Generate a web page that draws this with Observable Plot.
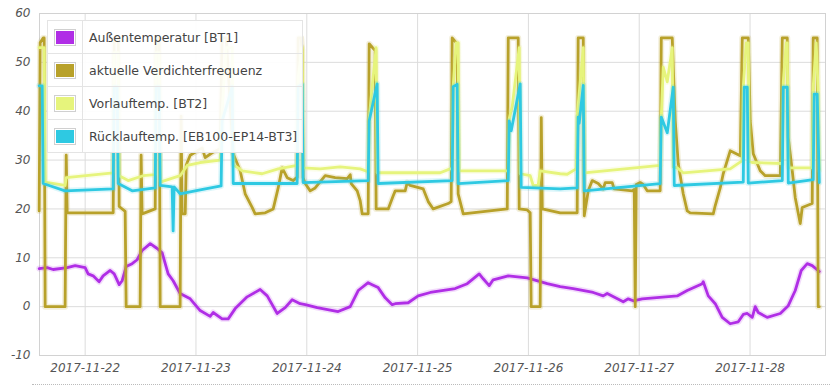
<!DOCTYPE html>
<html>
<head>
<meta charset="utf-8">
<script src="https://cdn.jsdelivr.net/npm/d3@7"></script>
<script src="https://cdn.jsdelivr.net/npm/@observablehq/plot@0.6"></script>
<style>
  html, body { margin: 0; padding: 0; background: #fff; }
  #wrap { position: relative; width: 836px; height: 387px; overflow: hidden; }
  #legend { position: absolute; left: 47px; top: 20px; background: rgba(255,255,255,0.92); }
  #legend table { border-collapse: collapse; font-family: "DejaVu Sans", sans-serif; font-size: 12.5px; color: #444; }
  #legend td { border: 1px solid #e4e4e4; height: 32px; padding: 0; }
  #legend td.sw { width: 34px; text-align: center; }
  #legend .box { display: inline-block; border: 1px solid #d0d0d0; padding: 1px; vertical-align: middle; }
  #legend .box div { width: 18px; height: 13px; }
  #legend td.lab { padding: 0 5px 0 6px; white-space: nowrap; }
  #dots { position: absolute; left: 32px; top: 384px; width: 798px; border-top: 1px dotted #bbb; }
</style>
</head>
<body>
<div id="wrap"><div id="chart"></div><div id="legend"></div><div id="dots"></div></div>
<script>
// Times are decimal days of November 2017 (e.g. 22.5 = 2017-11-22 12:00), values in chart units.
const aussen = [[21.585,7.8],[21.657,8.0],[21.711,7.6],[21.838,8.0],[21.910,8.4],[22.000,8.0],[22.027,6.7],[22.072,6.3],[22.126,5.1],[22.162,6.3],[22.226,7.4],[22.262,6.7],[22.307,4.5],[22.334,5.3],[22.370,8.2],[22.424,8.8],[22.469,9.6],[22.514,11.5],[22.587,12.9],[22.650,11.9],[22.695,11.0],[22.749,6.7],[22.794,5.3],[22.857,2.7],[22.948,1.6],[23.038,-0.8],[23.128,-2.0],[23.155,-1.2],[23.236,-2.5],[23.291,-2.5],[23.354,-0.4],[23.462,2.0],[23.579,3.5],[23.643,2.2],[23.733,-1.4],[23.805,-0.2],[23.868,1.4],[23.940,0.6],[23.986,0.4],[24.094,-0.2],[24.283,-1.0],[24.392,0],[24.464,3.3],[24.554,4.9],[24.590,4.5],[24.644,3.9],[24.708,1.8],[24.771,0.4],[24.798,0.6],[24.915,0.8],[25.005,2.2],[25.114,2.9],[25.339,3.7],[25.448,4.7],[25.556,6.7],[25.592,5.7],[25.646,4.3],[25.682,5.5],[25.818,6.3],[25.989,5.9],[26.170,4.7],[26.287,4.1],[26.404,3.7],[26.585,2.9],[26.675,2.2],[26.711,2.7],[26.856,1.0],[26.901,1.6],[26.946,1.2],[27.027,1.6],[27.343,2.2],[27.433,3.3],[27.569,4.7],[27.578,5.1],[27.623,2.2],[27.686,0.6],[27.749,-2.2],[27.821,-3.5],[27.894,-3.1],[27.939,-1.6],[27.975,-1.4],[28.020,-2.2],[28.047,0],[28.074,-1.2],[28.155,-2.2],[28.273,-1.4],[28.345,0.2],[28.408,3.3],[28.462,7.4],[28.516,8.8],[28.561,8.4],[28.625,7.2]];

const verdichter = [[21.585,19.6],[21.594,54],[21.621,55],[21.630,55],[21.639,0],[21.819,0],[21.829,31],[21.838,19.2],[22.253,19.2],[22.262,55],[22.298,55],[22.307,20.5],[22.361,19.5],[22.370,0],[22.496,0],[22.505,31],[22.514,19],[22.632,20],[22.641,55],[22.668,55],[22.677,0],[22.857,0],[22.866,39],[22.875,19],[22.903,19],[22.912,29],[22.948,31],[23.056,32.5],[23.083,30.5],[23.146,31.5],[23.218,32.3],[23.236,55],[23.273,55],[23.336,31.3],[23.399,27.8],[23.444,23.1],[23.507,20.3],[23.534,19],[23.625,19.2],[23.697,20],[23.742,24.3],[23.778,28.4],[23.823,26.4],[23.877,25.8],[23.913,26.5],[23.922,55],[23.949,55],[23.958,52.5],[23.967,26.4],[23.986,25.2],[24.031,23.7],[24.076,24.3],[24.166,26.8],[24.256,26.4],[24.365,26.2],[24.392,27],[24.401,25.2],[24.455,23.7],[24.482,21.7],[24.500,19],[24.554,19],[24.563,53.8],[24.617,52.4],[24.626,20],[24.735,20],[24.780,22.7],[24.798,23.7],[24.888,23.7],[24.906,25.4],[24.933,24.8],[25.051,24.1],[25.096,21.5],[25.141,20],[25.276,21.1],[25.303,21.5],[25.312,55],[25.357,53.8],[25.366,23.1],[25.412,19],[25.809,20],[25.818,55],[25.908,55],[25.917,20],[25.989,19.8],[26.016,19.2],[26.025,0],[26.106,0],[26.116,38.7],[26.125,20],[26.287,19.2],[26.440,19.2],[26.449,55],[26.495,55],[26.504,18.6],[26.540,23.7],[26.576,25.8],[26.630,25.2],[26.675,24.1],[26.693,25.4],[26.756,25.4],[26.774,24.1],[26.937,23.7],[26.955,24],[26.964,0],[26.973,25],[27.009,25.4],[27.036,25],[27.072,23.7],[27.189,23.7],[27.199,55],[27.298,55],[27.325,38],[27.352,29.3],[27.397,23.1],[27.433,19.6],[27.460,19.2],[27.668,19],[27.686,20.7],[27.731,24.3],[27.758,27.2],[27.821,31.9],[27.912,30.9],[27.930,55],[27.984,55],[28.002,38],[28.029,31.3],[28.092,27.8],[28.137,26.8],[28.273,26.8],[28.291,55],[28.336,55],[28.345,34.6],[28.381,27.8],[28.408,22.3],[28.453,17],[28.471,20.3],[28.561,21.1],[28.570,55],[28.606,55],[28.615,0],[28.625,0]];

const vorlauf = [[21.585,53],[21.630,53],[21.639,25.5],[21.819,24.8],[21.829,26.4],[22.253,27.4],[22.262,52],[22.298,52],[22.307,26.8],[22.388,25.8],[22.523,26.8],[22.632,27],[22.641,52],[22.668,52],[22.677,25.5],[22.857,26.8],[22.921,28.9],[23.038,29.5],[23.218,30],[23.236,40],[23.273,53],[23.327,53],[23.336,29],[23.381,28.4],[23.417,27.8],[23.597,27.2],[23.742,28.2],[23.913,28.9],[23.922,47],[23.958,53],[23.967,28.4],[24.121,28.2],[24.301,28.6],[24.482,28.2],[24.554,27.6],[24.563,38.5],[24.590,45],[24.626,53],[24.635,27.4],[25.204,27.4],[25.294,28.2],[25.312,28.2],[25.321,45],[25.348,54],[25.366,54],[25.375,27.8],[25.818,27.8],[25.827,38.5],[25.854,41],[25.917,53],[25.926,27.2],[26.016,26.8],[26.043,24.8],[26.088,24.8],[26.106,27.8],[26.287,27.2],[26.350,27.1],[26.431,28.2],[26.440,39],[26.495,53],[26.504,27.4],[27.189,28.9],[27.199,38.8],[27.217,49],[27.253,46],[27.298,53],[27.307,28.6],[27.343,28.4],[27.397,27.4],[27.821,28.2],[27.930,29.9],[27.939,45],[27.966,54],[27.984,54],[27.993,29.7],[28.020,29.5],[28.291,29.3],[28.300,46],[28.327,54],[28.336,54],[28.345,28.6],[28.363,28.4],[28.561,28.4],[28.570,45],[28.597,54],[28.615,44],[28.625,28]];

const ruecklauf = [[21.585,45.2],[21.612,45.2],[21.621,25.2],[21.648,25],[21.819,23.7],[22.253,24.1],[22.262,45],[22.289,45],[22.298,25.2],[22.424,23.7],[22.632,24.3],[22.641,45],[22.668,45],[22.677,24.8],[22.785,24.5],[22.794,15.5],[22.803,24.5],[22.857,23.1],[23.038,23.9],[23.227,24.7],[23.236,38],[23.327,45],[23.336,25.2],[23.913,25.2],[23.922,45],[23.958,45.5],[23.967,25.4],[24.554,25.8],[24.563,38],[24.635,45.6],[24.644,25.2],[25.312,25.8],[25.321,45],[25.357,45.5],[25.366,25.2],[25.818,25.8],[25.827,38],[25.845,36],[25.926,45.6],[25.935,24.4],[26.287,24.1],[26.440,24.3],[26.449,38.8],[26.458,37.5],[26.495,45.3],[26.504,23.7],[27.189,25.2],[27.199,38.8],[27.253,35.6],[27.307,44.9],[27.316,24.8],[27.939,25.5],[27.948,44.9],[27.975,44.9],[27.984,25.3],[28.291,25.8],[28.300,44.9],[28.336,44.9],[28.345,25.3],[28.570,26],[28.579,43.5],[28.606,43.5],[28.625,25.4]];

const seriesNames = ["Außentemperatur [BT1]", "aktuelle Verdichterfrequenz", "Vorlauftemp. [BT2]", "Rücklauftemp. [EB100-EP14-BT3]"];
const seriesColors = ["#b02ee6", "#b8a12a", "#e6f47c", "#2ec9e2"];
const seriesData = [aussen, verdichter, vorlauf, ruecklauf];
const yTicks = [-10, 0, 10, 20, 30, 40, 50, 60];
const yDomain = [-10, 60];
const xDomainDays = [21.588, 28.681];

const dayZero = Date.UTC(2017, 10, 1);
const toDate = d => new Date(dayZero + (d - 1) * 864e5);

const lineMarks = [];
seriesData.forEach((arr, i) => {
  const rows = arr.map(([t, v]) => ({t: toDate(t), v}));
  lineMarks.push(Plot.line(rows, {x: "t", y: "v", stroke: seriesColors[i], strokeWidth: 6, strokeOpacity: 0.17}));
  lineMarks.push(Plot.line(rows, {x: "t", y: "v", stroke: seriesColors[i], strokeWidth: 2.8}));
});

const xTickDates = d3.utcDay.range(toDate(22), toDate(28.5));

const chart = Plot.plot({
  width: 836,
  height: 387,
  marginLeft: 39,
  marginRight: 11,
  marginTop: 13,
  marginBottom: 32,
  style: {fontFamily: "'DejaVu Sans', sans-serif", fontSize: "12px", fontStyle: "italic", color: "#555", background: "transparent", overflow: "visible"},
  x: {type: "utc", domain: xDomainDays.map(toDate), label: null},
  y: {domain: yDomain, label: null},
  marks: [
    Plot.gridY(yTicks, {stroke: "#dcdcdc", strokeOpacity: 1}),
    Plot.gridX(xTickDates, {stroke: "#dcdcdc", strokeOpacity: 1}),
    Plot.frame({stroke: "#d2d2d2"}),
    Plot.axisY(yTicks, {tickSize: 0, tickPadding: 9, tickFormat: d => String(d), label: null, fill: "#555"}),
    Plot.axisX(xTickDates, {tickSize: 0, tickPadding: 8, tickFormat: d3.utcFormat("%Y-%m-%d"), label: null, fill: "#555"}),
    ...lineMarks
  ]
});
document.getElementById("chart").appendChild(chart);

// legend
const table = document.createElement("table");
seriesNames.forEach((name, i) => {
  const tr = document.createElement("tr");
  const sw = document.createElement("td");
  sw.className = "sw";
  sw.innerHTML = `<span class="box"><div style="background:${seriesColors[i]}"></div></span>`;
  const lab = document.createElement("td");
  lab.className = "lab";
  lab.textContent = name;
  tr.appendChild(sw);
  tr.appendChild(lab);
  table.appendChild(tr);
});
document.getElementById("legend").appendChild(table);
</script>
</body>
</html>
